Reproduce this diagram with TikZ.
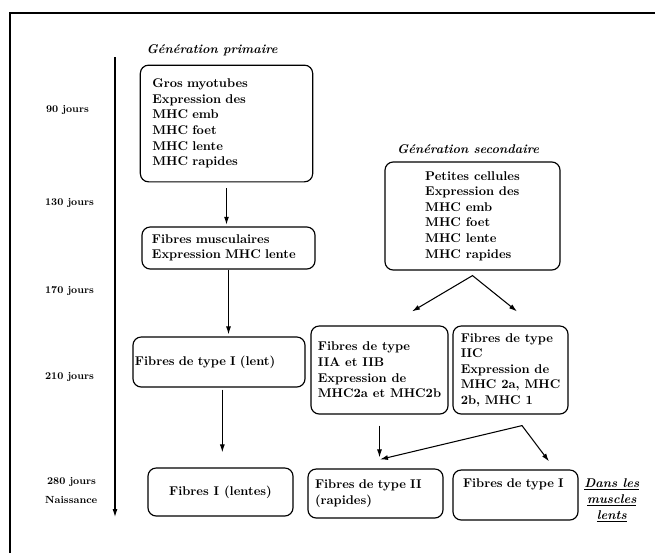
\documentclass[tikz,border=0pt]{standalone}
\usepackage{tikz}
\usetikzlibrary{arrows.meta, positioning, calc}
\tikzset{
  stage/.style={rectangle, rounded corners=7pt, draw, line width=1pt,
    align=left, font=\bfseries\fontsize{10.8}{13.3}\selectfont},
  gentitle/.style={font=\bfseries\itshape\fontsize{10.8}{13}\selectfont},
  daylbl/.style={anchor=west, font=\bfseries\fontsize{8.8}{10}\selectfont},
  note/.style={align=center, font=\bfseries\itshape\fontsize{10.8}{13.5}\selectfont},
  ar/.style={-{Latex[length=2.4mm,width=1.5mm]}, line width=0.9pt},
  forkar/.style={{Latex[length=2.4mm,width=1.5mm]}-{Latex[length=2.4mm,width=1.5mm]},
    line width=0.9pt},
}

\begin{document}
\begin{tikzpicture}[x=0.03cm, y=-0.03cm]
  \useasboundingbox (0,0) rectangle (655,553);
  \draw[line width=1.5pt] (10,553) -- (10,13) -- (655,13);

  % time axis
  \coordinate (t0) at (115,57);
  \coordinate (t1) at (115,517);
  \draw[ar] (t0) -- (t1);
  \node[daylbl] (d90) at (42,110) {90 jours};
  \node[daylbl] (d130) at (41,203) {130 jours};
  \node[daylbl] (d170) at (41,291) {170 jours};
  \node[daylbl] (d210) at (41,377) {210 jours};
  \node[daylbl] (d280) at (43,482) {280 jours};
  \node[daylbl] (birth) at (41,500) {Naissance};

  % primary generation
  \node[stage, text width=4.45cm, inner xsep=0.36cm, minimum height=3.5cm] (gros) at (226.5,123.5)
    {Gros myotubes\\Expression des\\MHC emb\\MHC foet\\MHC lente\\MHC rapides};
  \node[gentitle, above=0.13cm of gros, xshift=-0.43cm] (gp) {Génération primaire};
  \node[stage, text width=4.59cm, inner xsep=0.3cm, minimum height=1.26cm] (musc) at (228.5,248)
    {Fibres musculaires\\Expression MHC lente};
  \node[stage, text width=5.04cm, inner xsep=0.06cm, minimum height=1.5cm] (lent) at (219,362)
    {Fibres de type I (lent)};
  \node[stage, align=center, minimum width=4.35cm, minimum height=1.44cm] (lentes) at (220.5,492)
    {Fibres I (lentes)};

  % secondary generation
  \node[stage, minimum width=5.25cm, minimum height=3.24cm] (petites) at (472.5,216)
    {Petites cellules\\Expression des\\MHC emb\\MHC foet\\MHC lente\\MHC rapides};
  \node[gentitle, above=0.1cm of petites, xshift=-0.13cm] (gs) {Génération secondaire};
  \node[stage, minimum width=4.11cm, minimum height=2.64cm] (iiab) at (379.5,370)
    {Fibres de type\\IIA et IIB\\Expression de\\MHC2a et MHC2b};
  \node[stage, minimum width=3.45cm, minimum height=2.64cm] (iic) at (510.5,370)
    {Fibres de type\\IIC\\Expression de\\MHC 2a, MHC\\2b, MHC 1};
  \node[stage, text width=3.63cm, inner xsep=0.21cm, minimum height=1.47cm] (rapides) at (375.5,493.5)
    {Fibres de type II\\(rapides)};
  \node[stage, text width=3.15cm, inner xsep=0.3cm, text depth=0.7cm, minimum height=1.5cm] (typeI) at (515.5,495)
    {Fibres de type I};
  \node[note, right=0.05cm of typeI, yshift=-0.15cm] (slow)
    {\underline{Dans les}\\\underline{muscles}\\\underline{lents}};

  % connectors
  \draw[ar, shorten <=0.18cm, shorten >=0.05cm] (gros.south) -- (gros.south |- musc.north);
  \draw[ar, shorten >=0.06cm] (musc.south) -- (musc.south |- lent.north);
  \draw[ar, shorten <=0.06cm, shorten >=0.45cm] ([xshift=0.1cm]lent.south) -- ([xshift=0.1cm]lent.south |- lentes.north);

  \coordinate (splitP) at ($(petites.south)+(0,5)$);
  \coordinate (toIIAB) at ($(iiab.north)+(32.5,-14)$);
  \coordinate (toIIC) at ($(iic.north)+(6.5,-14)$);
  \draw[forkar] (toIIAB) -- (splitP) -- (toIIC);

  \draw[ar, shorten <=0.33cm, shorten >=0.33cm] (iiab.south) -- (iiab.south |- rapides.north);
  \coordinate (splitC) at ($(iic.south)+(11.5,11)$);
  \coordinate (toII) at ($(rapides.north)+(4.5,-9)$);
  \coordinate (toI) at ($(typeI.north)+(33.5,-8)$);
  \draw[forkar] (toII) -- (splitC) -- (toI);
\end{tikzpicture}
\end{document}
